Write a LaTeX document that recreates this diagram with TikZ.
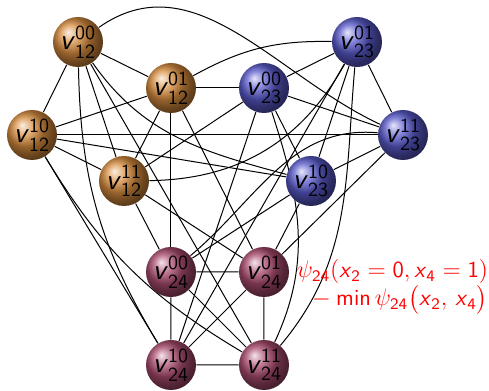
\documentclass[tikz,border=0pt]{standalone}
\usepackage{amsmath}
\usetikzlibrary{positioning}
\pgfdeclarelayer{back}
\pgfsetlayers{back,main}
\definecolor{bronze}{RGB}{215,140,62}
\definecolor{slateblue}{RGB}{90,90,205}
\definecolor{berry}{RGB}{170,75,110}
\newcommand{\vlab}[2]{$\textsf{\textit{v}}^{\textsf{#1}}_{\textsf{#2}}$}
\newcommand{\sx}{\textsf{\textit{x}}}

\begin{document}
\begin{tikzpicture}[x=0.5pt,y=0.5pt,
  every node/.style={font=\Large},
  ball/.style={circle,minimum size=25pt,inner sep=0pt},
  b12/.style={ball,ball color=bronze},
  b23/.style={ball,ball color=slateblue},
  b24/.style={ball,ball color=berry},
  link/.style={line width=0.5pt}
]
  \useasboundingbox (0,0) rectangle (489,391);
  % factor 12
  \node[b12] (a00) at (78,349) {\vlab{00}{12}};
  \node[b12] (a01) at (171,303) {\vlab{01}{12}};
  \node[b12] (a10) at (32,256) {\vlab{10}{12}};
  \node[b12] (a11) at (124,210) {\vlab{11}{12}};
  % factor 23
  \node[b23] (b00) at (264,303) {\vlab{00}{23}};
  \node[b23] (b01) at (357,349) {\vlab{01}{23}};
  \node[b23] (b10) at (311,210) {\vlab{10}{23}};
  \node[b23] (b11) at (403,256) {\vlab{11}{23}};
  % factor 24
  \node[b24] (c00) at (171,119) {\vlab{00}{24}};
  \node[b24] (c01) at (264,119) {\vlab{01}{24}};
  \node[b24] (c10) at (171,26) {\vlab{10}{24}};
  \node[b24] (c11) at (264,26) {\vlab{11}{24}};

  \begin{pgfonlayer}{back}
    % inside each factor
    \foreach \f in {a,b,c} {
      \draw[link] (\f00) -- (\f01) (\f00) -- (\f10) (\f00) -- (\f11)
                  (\f01) -- (\f10) (\f01) -- (\f11) (\f10) -- (\f11);
    }
    % 12 -- 23
    \draw[link] (a00) to[out=35,in=155] (b11);
    \draw[link] (a00) to[out=-55,in=165] (b10);
    \draw[link] (a10) -- (b10);
    \draw[link] (a10) -- (b11);
    \draw[link] (a01) -- (b00);
    \draw[link] (a01) to[bend left=15] (b01);
    \draw[link] (a11) -- (b00);
    \draw[link] (a11) to[bend right=30] (b01);
    % 12 -- 24
    \draw[link] (a00) to[bend right=15] (c10);
    \draw[link] (a00) -- (c11);
    \draw[link] (a10) -- (c10);
    \draw[link] (a10) to[bend right=14] (c11);
    \draw[link] (a01) -- (c00);
    \draw[link] (a01) -- (c01);
    \draw[link] (a11) -- (c00);
    \draw[link] (a11) -- (c01);
    % 23 -- 24
    \draw[link] (b00) -- (c10);
    \draw[link] (b00) to[out=-72,in=65] (c11);
    \draw[link] (b01) -- (c10);
    \draw[link] (b01) to[out=-95,in=50] (c11);
    \draw[link] (b10) -- (c00);
    \draw[link] (b10) -- (c01);
    \draw[link] (b11) to[out=175,in=40] (c00);
    \draw[link] (b11) -- (c01);
  \end{pgfonlayer}

  \node[right=3.5pt of c01,yshift=-7.5pt,inner sep=0pt,align=right,text=red,
        font=\fontsize{11.5}{12.5}\selectfont] (psi)
    {$\psi_{\textsf{24}}(\sx_{\textsf{2}}=\textsf{0},\sx_{\textsf{4}}=\textsf{1})$\\
     ${}-\mathop{\textsf{min}}\psi_{\textsf{24}}\bigl(\sx_{\textsf{2}},\,\sx_{\textsf{4}}\bigr)$};
\end{tikzpicture}
\end{document}
